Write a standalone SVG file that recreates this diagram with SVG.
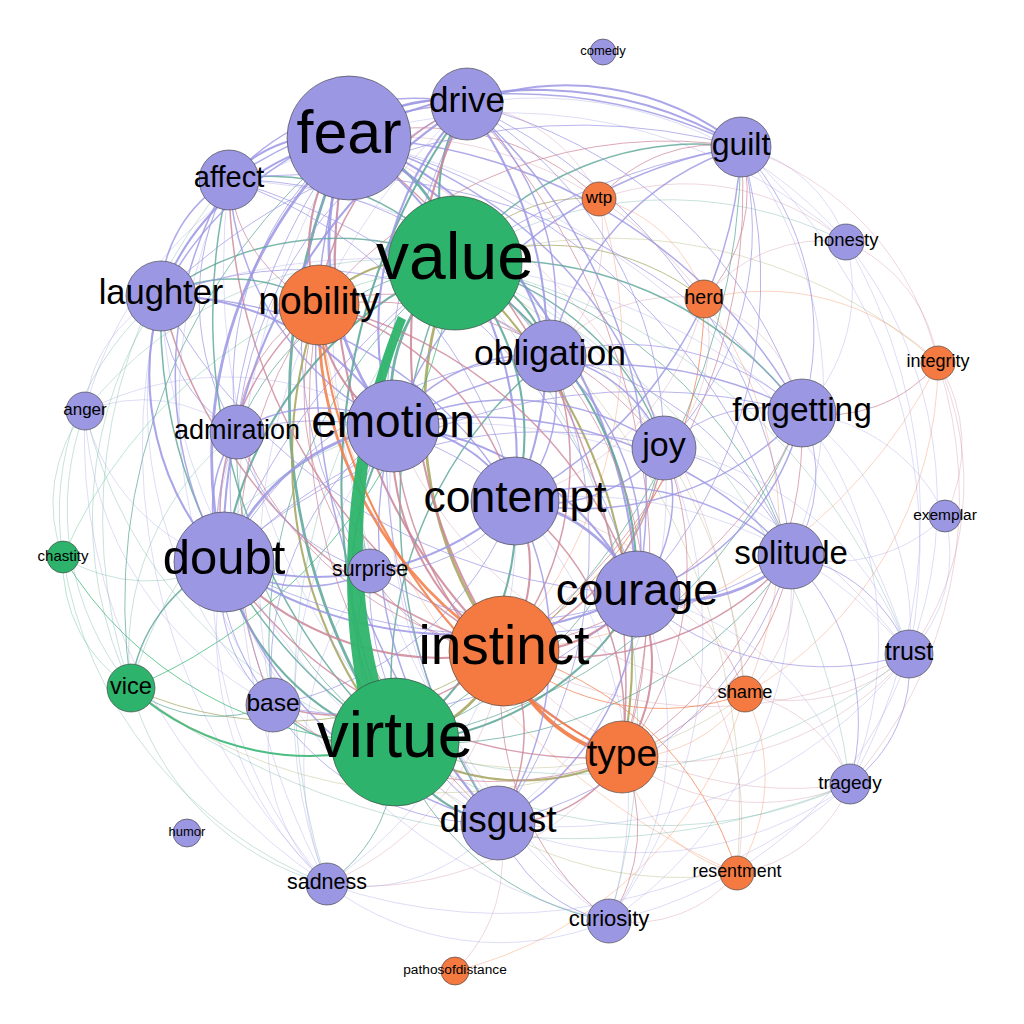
<svg xmlns="http://www.w3.org/2000/svg" width="1024" height="1024" viewBox="0 0 1024 1024">
<style>
.e path{fill:none;stroke-linecap:round}
.l{stroke:#9b96e4}.t{stroke:#5aa596}.p{stroke:#cc8597}.o{stroke:#f27b45}.v{stroke:#a3a35a}.g{stroke:#2cb36b}
.w1{stroke-width:.6;stroke-opacity:.55}.w2{stroke-width:1;stroke-opacity:.7}.w3{stroke-width:1.5;stroke-opacity:.8}.w4{stroke-width:2.1;stroke-opacity:.85}.w5{stroke-width:2.8;stroke-opacity:.85}.w6{stroke-width:4;stroke-opacity:.9}
.e path.band{fill:#2eb46b;stroke:none;fill-opacity:.95}
.n circle{stroke:#3a3a3a;stroke-width:.6}
.pu{fill:#9b97e2}.or{fill:#f47a42}.gr{fill:#2db36b}
text{font-family:"Liberation Sans",Arial,Helvetica,sans-serif;text-anchor:middle;fill:#000}
</style>
<rect width="1024" height="1024" fill="#fff"/>
<g id="edges" class="e">
<path class="t w5" d="M349 138A160 160 0 0 1 455 263"/>
<path class="t w5" d="M395 742A606 606 0 0 1 349 138"/>
<path class="p w4" d="M504 651A536 536 0 0 1 349 138"/>
<path class="l w5" d="M393 426A291 291 0 0 1 349 138"/>
<path class="l w4" d="M349 138A399 399 0 0 1 515 501"/>
<path class="l w5" d="M224 562A442 442 0 0 1 349 138"/>
<path class="l w4" d="M349 138A539 539 0 0 1 637 594"/>
<path class="l w4" d="M349 138A123 123 0 0 1 467 104"/>
<path class="p w4" d="M319 305A170 170 0 0 1 349 138"/>
<path class="p w3" d="M349 138A677 677 0 0 1 622 757"/>
<path class="l w4" d="M349 138A297 297 0 0 1 550 356"/>
<path class="l w4" d="M229 180A127 127 0 0 1 349 138"/>
<path class="l w4" d="M161 296A246 246 0 0 1 349 138"/>
<path class="l w4" d="M349 138A392 392 0 0 1 741 147"/>
<path class="l w3" d="M349 138A530 530 0 0 1 802 413"/>
<path class="l w3" d="M349 138A442 442 0 0 1 664 448"/>
<path class="l w2" d="M349 138A608 608 0 0 1 791 556"/>
<path class="l w3" d="M498 823A701 701 0 0 1 349 138"/>
<path class="l w2" d="M237 432A315 315 0 0 1 349 138"/>
<path class="l w2" d="M370 571A434 434 0 0 1 349 138"/>
<path class="l w2" d="M273 705A572 572 0 0 1 349 138"/>
<path class="t w2" d="M131 688A592 592 0 0 1 349 138"/>
<path class="l w1" d="M327 884A746 746 0 0 1 349 138"/>
<path class="l w1" d="M609 921A825 825 0 0 1 349 138"/>
<path class="p w1" d="M349 138A683 683 0 0 1 745 694"/>
<path class="l w1" d="M349 138A761 761 0 0 1 909 654"/>
<path class="p w2" d="M349 138A257 257 0 0 1 599 199"/>
<path class="p w1" d="M349 138A390 390 0 0 1 704 299"/>
<path class="l w1" d="M349 138A508 508 0 0 1 846 242"/>
<path class="l w1" d="M85 411A380 380 0 0 1 349 138"/>
<path class="v w5" d="M504 651A391 391 0 0 1 455 263"/>
<path class="t w5" d="M393 426A174 174 0 0 1 455 263"/>
<path class="t w4" d="M455 263A245 245 0 0 1 515 501"/>
<path class="t w4" d="M224 562A378 378 0 0 1 455 263"/>
<path class="t w4" d="M455 263A378 378 0 0 1 637 594"/>
<path class="t w4" d="M455 263A159 159 0 0 1 467 104"/>
<path class="v w4" d="M319 305A142 142 0 0 1 455 263"/>
<path class="v w4" d="M455 263A521 521 0 0 1 622 757"/>
<path class="t w4" d="M455 263A133 133 0 0 1 550 356"/>
<path class="t w3" d="M229 180A241 241 0 0 1 455 263"/>
<path class="t w3" d="M161 296A296 296 0 0 1 455 263"/>
<path class="t w3" d="M455 263A309 309 0 0 1 741 147"/>
<path class="t w3" d="M455 263A378 378 0 0 1 802 413"/>
<path class="t w3" d="M455 263A279 279 0 0 1 664 448"/>
<path class="t w2" d="M455 263A446 446 0 0 1 791 556"/>
<path class="t w3" d="M498 823A562 562 0 0 1 455 263"/>
<path class="t w2" d="M237 432A276 276 0 0 1 455 263"/>
<path class="t w2" d="M370 571A320 320 0 0 1 455 263"/>
<path class="t w2" d="M273 705A478 478 0 0 1 455 263"/>
<path class="g w2" d="M131 688A534 534 0 0 0 455 263"/>
<path class="t w1" d="M327 884A634 634 0 0 1 455 263"/>
<path class="t w1" d="M455 263A676 676 0 0 1 609 921"/>
<path class="v w2" d="M455 263A158 158 0 0 1 599 199"/>
<path class="v w2" d="M455 263A252 252 0 0 1 704 299"/>
<path class="v w1" d="M455 263A493 493 0 0 1 938 363"/>
<path class="t w1" d="M455 263A599 599 0 0 1 909 654"/>
<path class="v w1" d="M455 263A520 520 0 0 1 745 694"/>
<path class="v w1" d="M455 263A672 672 0 0 1 737 873"/>
<path class="t w1" d="M455 263A392 392 0 0 1 846 242"/>
<path class="t w1" d="M455 263A654 654 0 0 1 850 784"/>
<path class="g w1" d="M63 557A490 490 0 0 1 455 263"/>
<path class="t w1" d="M85 411A398 398 0 0 1 455 263"/>
<path class="v w5" d="M504 651A142 142 0 0 1 395 742"/>
<path class="t w4" d="M395 742A316 316 0 0 1 393 426"/>
<path class="t w4" d="M515 501A269 269 0 0 1 395 742"/>
<path class="t w4" d="M395 742A248 248 0 0 1 224 562"/>
<path class="t w4" d="M637 594A284 284 0 0 1 395 742"/>
<path class="t w4" d="M395 742A642 642 0 0 1 467 104"/>
<path class="v w4" d="M395 742A444 444 0 0 1 319 305"/>
<path class="v w4" d="M622 757A227 227 0 0 1 395 742"/>
<path class="t w3" d="M395 742A416 416 0 0 1 550 356"/>
<path class="t w3" d="M395 742A586 586 0 0 1 229 180"/>
<path class="t w3" d="M395 742A504 504 0 0 1 161 296"/>
<path class="t w2" d="M741 147A688 688 0 0 1 395 742"/>
<path class="t w2" d="M802 413A523 523 0 0 1 395 742"/>
<path class="t w2" d="M664 448A398 398 0 0 1 395 742"/>
<path class="t w2" d="M791 556A437 437 0 0 1 395 742"/>
<path class="t w4" d="M498 823A131 131 0 0 1 395 742"/>
<path class="t w2" d="M395 742A348 348 0 0 1 237 432"/>
<path class="t w3" d="M395 742A173 173 0 0 1 370 571"/>
<path class="t w3" d="M395 742A127 127 0 0 1 273 705"/>
<path class="g w4" d="M395 742A269 269 0 0 1 131 688"/>
<path class="g w2" d="M395 742A380 380 0 0 1 63 557"/>
<path class="t w2" d="M395 742A157 157 0 0 1 327 884"/>
<path class="t w2" d="M609 921A279 279 0 0 1 395 742"/>
<path class="t w1" d="M909 654A521 521 0 0 1 395 742"/>
<path class="v w1" d="M745 694A353 353 0 0 1 395 742"/>
<path class="t w1" d="M850 784A457 457 0 0 1 395 742"/>
<path class="v w1" d="M737 873A366 366 0 0 1 395 742"/>
<path class="t w1" d="M395 742A453 453 0 0 1 85 411"/>
<path class="p w4" d="M504 651A251 251 0 0 1 393 426"/>
<path class="p w4" d="M515 501A150 150 0 0 1 504 651"/>
<path class="p w4" d="M504 651A294 294 0 0 1 224 562"/>
<path class="p w4" d="M637 594A145 145 0 0 1 504 651"/>
<path class="p w4" d="M504 651A548 548 0 0 1 467 104"/>
<path class="o w5" d="M504 651A392 392 0 0 1 319 305"/>
<path class="o w6" d="M622 757A159 159 0 0 1 504 651"/>
<path class="p w3" d="M550 356A299 299 0 0 1 504 651"/>
<path class="p w3" d="M504 651A545 545 0 0 1 229 180"/>
<path class="p w3" d="M504 651A494 494 0 0 1 161 296"/>
<path class="p w2" d="M741 147A557 557 0 0 1 504 651"/>
<path class="p w2" d="M802 413A381 381 0 0 1 504 651"/>
<path class="p w3" d="M664 448A258 258 0 0 1 504 651"/>
<path class="p w3" d="M791 556A302 302 0 0 1 504 651"/>
<path class="p w3" d="M504 651A172 172 0 0 1 498 823"/>
<path class="p w2" d="M504 651A345 345 0 0 1 237 432"/>
<path class="p w2" d="M504 651A156 156 0 0 1 370 571"/>
<path class="p w3" d="M504 651A237 237 0 0 1 273 705"/>
<path class="p w1" d="M504 651A293 293 0 0 1 327 884"/>
<path class="p w2" d="M609 921A290 290 0 0 1 504 651"/>
<path class="p w1" d="M909 654A405 405 0 0 1 504 651"/>
<path class="o w2" d="M745 694A245 245 0 0 1 504 651"/>
<path class="o w2" d="M737 873A322 322 0 0 0 504 651"/>
<path class="o w2" d="M704 299A405 405 0 0 1 504 651"/>
<path class="o w1" d="M599 199A462 462 0 0 1 504 651"/>
<path class="o w1" d="M938 363A521 521 0 0 1 504 651"/>
<path class="p w1" d="M850 784A371 371 0 0 1 504 651"/>
<path class="v w2" d="M504 651A375 375 0 0 1 131 688"/>
<path class="l w4" d="M393 426A143 143 0 0 1 515 501"/>
<path class="l w5" d="M224 562A217 217 0 0 1 393 426"/>
<path class="l w4" d="M393 426A296 296 0 0 1 637 594"/>
<path class="l w4" d="M393 426A330 330 0 0 1 467 104"/>
<path class="p w4" d="M393 426A142 142 0 0 1 319 305"/>
<path class="p w3" d="M622 757A402 402 0 0 1 393 426"/>
<path class="l w3" d="M393 426A172 172 0 0 1 550 356"/>
<path class="l w3" d="M393 426A296 296 0 0 1 229 180"/>
<path class="l w4" d="M161 296A266 266 0 0 1 393 426"/>
<path class="l w3" d="M393 426A446 446 0 0 1 741 147"/>
<path class="l w3" d="M393 426A409 409 0 0 1 802 413"/>
<path class="l w3" d="M393 426A272 272 0 0 1 664 448"/>
<path class="l w3" d="M393 426A419 419 0 0 1 791 556"/>
<path class="l w3" d="M498 823A411 411 0 0 1 393 426"/>
<path class="l w3" d="M237 432A156 156 0 0 1 393 426"/>
<path class="l w2" d="M370 571A147 147 0 0 1 393 426"/>
<path class="l w2" d="M273 705A304 304 0 0 1 393 426"/>
<path class="l w1" d="M327 884A463 463 0 0 1 393 426"/>
<path class="l w1" d="M609 921A540 540 0 0 1 393 426"/>
<path class="l w1" d="M85 411A308 308 0 0 1 393 426"/>
<path class="l w1" d="M393 426A564 564 0 0 1 909 654"/>
<path class="p w1" d="M745 694A442 442 0 0 1 393 426"/>
<path class="t w1" d="M131 688A370 370 0 0 1 393 426"/>
<path class="l w4" d="M515 501A297 297 0 0 1 224 562"/>
<path class="l w5" d="M515 501A153 153 0 0 1 637 594"/>
<path class="l w4" d="M467 104A400 400 0 0 1 515 501"/>
<path class="p w3" d="M319 305A277 277 0 0 1 515 501"/>
<path class="p w3" d="M515 501A277 277 0 0 1 622 757"/>
<path class="l w3" d="M550 356A149 149 0 0 1 515 501"/>
<path class="l w2" d="M229 180A430 430 0 0 1 515 501"/>
<path class="l w3" d="M161 296A409 409 0 0 1 515 501"/>
<path class="l w3" d="M741 147A420 420 0 0 1 515 501"/>
<path class="l w3" d="M802 413A300 300 0 0 1 515 501"/>
<path class="l w3" d="M664 448A158 158 0 0 1 515 501"/>
<path class="l w3" d="M515 501A281 281 0 0 1 791 556"/>
<path class="l w3" d="M515 501A322 322 0 0 1 498 823"/>
<path class="l w2" d="M237 432A286 286 0 0 1 515 501"/>
<path class="l w2" d="M515 501A161 161 0 0 1 370 571"/>
<path class="l w2" d="M515 501A317 317 0 0 1 273 705"/>
<path class="l w1" d="M515 501A427 427 0 0 1 327 884"/>
<path class="l w1" d="M515 501A430 430 0 0 1 609 921"/>
<path class="l w1" d="M515 501A423 423 0 0 1 909 654"/>
<path class="p w1" d="M515 501A300 300 0 0 1 745 694"/>
<path class="p w1" d="M704 299A277 277 0 0 1 515 501"/>
<path class="l w4" d="M637 594A414 414 0 0 1 224 562"/>
<path class="l w4" d="M224 562A518 518 0 0 1 467 104"/>
<path class="p w3" d="M224 562A274 274 0 0 1 319 305"/>
<path class="p w3" d="M622 757A443 443 0 0 1 224 562"/>
<path class="l w2" d="M224 562A386 386 0 0 1 550 356"/>
<path class="l w3" d="M224 562A382 382 0 0 1 229 180"/>
<path class="l w4" d="M224 562A273 273 0 0 1 161 296"/>
<path class="l w2" d="M224 562A663 663 0 0 1 741 147"/>
<path class="l w2" d="M224 562A597 597 0 0 1 802 413"/>
<path class="l w2" d="M224 562A455 455 0 0 1 664 448"/>
<path class="l w2" d="M791 556A567 567 0 0 1 224 562"/>
<path class="l w3" d="M498 823A378 378 0 0 1 224 562"/>
<path class="l w3" d="M224 562A131 131 0 0 1 237 432"/>
<path class="l w3" d="M370 571A146 146 0 0 1 224 562"/>
<path class="l w2" d="M273 705A151 151 0 0 1 224 562"/>
<path class="t w3" d="M131 688A157 157 0 0 1 224 562"/>
<path class="t w1" d="M224 562A161 161 0 0 1 63 557"/>
<path class="l w1" d="M224 562A205 205 0 0 1 85 411"/>
<path class="l w1" d="M327 884A338 338 0 0 1 224 562"/>
<path class="l w1" d="M609 921A526 526 0 0 1 224 562"/>
<path class="l w3" d="M467 104A519 519 0 0 1 637 594"/>
<path class="p w3" d="M319 305A430 430 0 0 1 637 594"/>
<path class="p w4" d="M637 594A164 164 0 0 1 622 757"/>
<path class="l w3" d="M550 356A253 253 0 0 1 637 594"/>
<path class="l w2" d="M229 180A581 581 0 0 1 637 594"/>
<path class="l w2" d="M637 594A562 562 0 0 1 161 296"/>
<path class="l w2" d="M741 147A459 459 0 0 1 637 594"/>
<path class="l w3" d="M802 413A245 245 0 0 1 637 594"/>
<path class="l w3" d="M664 448A148 148 0 0 1 637 594"/>
<path class="l w5" d="M791 556A159 159 0 0 1 637 594"/>
<path class="l w3" d="M637 594A268 268 0 0 1 498 823"/>
<path class="l w2" d="M637 594A268 268 0 0 1 370 571"/>
<path class="l w2" d="M637 594A381 381 0 0 1 273 705"/>
<path class="l w1" d="M637 594A328 328 0 0 1 609 921"/>
<path class="l w2" d="M909 654A279 279 0 0 1 637 594"/>
<path class="p w1" d="M637 594A147 147 0 0 1 745 694"/>
<path class="l w1" d="M637 594A285 285 0 0 1 850 784"/>
<path class="p w1" d="M637 594A296 296 0 0 1 737 873"/>
<path class="p w3" d="M319 305A250 250 0 0 1 467 104"/>
<path class="p w2" d="M467 104A671 671 0 0 1 622 757"/>
<path class="l w3" d="M467 104A265 265 0 0 1 550 356"/>
<path class="l w3" d="M229 180A250 250 0 0 1 467 104"/>
<path class="l w3" d="M161 296A361 361 0 0 1 467 104"/>
<path class="l w4" d="M467 104A277 277 0 0 1 741 147"/>
<path class="l w2" d="M467 104A456 456 0 0 1 802 413"/>
<path class="l w2" d="M467 104A396 396 0 0 1 664 448"/>
<path class="l w2" d="M467 104A556 556 0 0 1 791 556"/>
<path class="l w2" d="M498 823A720 720 0 0 1 467 104"/>
<path class="l w2" d="M237 432A401 401 0 0 1 467 104"/>
<path class="p w1" d="M467 104A163 163 0 0 1 599 199"/>
<path class="l w1" d="M467 104A403 403 0 0 1 846 242"/>
<path class="l w1" d="M273 705A632 632 0 0 1 467 104"/>
<path class="o w4" d="M622 757A544 544 0 0 1 319 305"/>
<path class="p w2" d="M319 305A237 237 0 0 1 550 356"/>
<path class="p w2" d="M319 305A154 154 0 0 1 229 180"/>
<path class="t w3" d="M161 296A158 158 0 0 1 319 305"/>
<path class="p w2" d="M319 305A451 451 0 0 1 741 147"/>
<path class="p w2" d="M319 305A373 373 0 0 1 664 448"/>
<path class="p w2" d="M498 823A548 548 0 0 1 319 305"/>
<path class="p w2" d="M237 432A151 151 0 0 1 319 305"/>
<path class="p w2" d="M273 705A403 403 0 0 1 319 305"/>
<path class="p w2" d="M370 571A271 271 0 0 1 319 305"/>
<path class="o w1" d="M737 873A705 705 0 0 1 319 305"/>
<path class="p w2" d="M550 356A407 407 0 0 1 622 757"/>
<path class="p w2" d="M802 413A388 388 0 0 1 622 757"/>
<path class="p w2" d="M664 448A312 312 0 0 1 622 757"/>
<path class="p w2" d="M791 556A263 263 0 0 1 622 757"/>
<path class="p w3" d="M622 757A140 140 0 0 1 498 823"/>
<path class="p w2" d="M622 757A165 165 0 0 1 609 921"/>
<path class="o w1" d="M745 694A138 138 0 0 1 622 757"/>
<path class="o w1" d="M737 873A163 163 0 0 1 622 757"/>
<path class="p w1" d="M909 654A305 305 0 0 1 622 757"/>
<path class="p w1" d="M850 784A230 230 0 0 1 622 757"/>
<path class="p w2" d="M622 757A353 353 0 0 1 273 705"/>
<path class="p w1" d="M622 757A321 321 0 0 1 327 884"/>
<path class="v w1" d="M622 757A496 496 0 0 1 131 688"/>
<path class="l w3" d="M550 356A283 283 0 0 1 741 147"/>
<path class="l w2" d="M550 356A258 258 0 0 1 802 413"/>
<path class="l w3" d="M550 356A146 146 0 0 1 664 448"/>
<path class="l w2" d="M550 356A313 313 0 0 1 791 556"/>
<path class="l w2" d="M161 296A394 394 0 0 1 550 356"/>
<path class="l w2" d="M229 180A366 366 0 0 1 550 356"/>
<path class="l w2" d="M550 356A470 470 0 0 1 498 823"/>
<path class="p w1" d="M550 356A164 164 0 0 1 704 299"/>
<path class="p w1" d="M599 199A164 164 0 0 1 550 356"/>
<path class="l w3" d="M161 296A134 134 0 0 1 229 180"/>
<path class="l w2" d="M237 432A252 252 0 0 1 229 180"/>
<path class="l w3" d="M229 180A513 513 0 0 1 741 147"/>
<path class="l w2" d="M229 180A619 619 0 0 1 802 413"/>
<path class="l w1" d="M498 823A697 697 0 0 1 229 180"/>
<path class="l w1" d="M273 705A527 527 0 0 1 229 180"/>
<path class="t w1" d="M131 688A517 517 0 0 1 229 180"/>
<path class="l w1" d="M229 180A511 511 0 0 1 664 448"/>
<path class="l w2" d="M237 432A156 156 0 0 1 161 296"/>
<path class="l w1" d="M85 411A138 138 0 0 1 161 296"/>
<path class="t w1" d="M131 688A393 393 0 0 1 161 296"/>
<path class="l w1" d="M327 884A611 611 0 0 1 161 296"/>
<path class="t w1" d="M63 557A279 279 0 0 1 161 296"/>
<path class="l w1" d="M498 823A626 626 0 0 1 161 296"/>
<path class="l w2" d="M161 296A599 599 0 0 1 741 147"/>
<path class="l w1" d="M161 296A652 652 0 0 1 802 413"/>
<path class="l w1" d="M273 705A424 424 0 0 1 161 296"/>
<path class="l w2" d="M741 147A273 273 0 0 1 802 413"/>
<path class="l w1" d="M741 147A142 142 0 0 1 846 242"/>
<path class="l w2" d="M741 147A311 311 0 0 1 664 448"/>
<path class="l w1" d="M741 147A412 412 0 0 1 791 556"/>
<path class="p w2" d="M741 147A156 156 0 0 1 704 299"/>
<path class="p w2" d="M599 199A151 151 0 0 1 741 147"/>
<path class="l w1" d="M741 147A534 534 0 0 1 909 654"/>
<path class="p w1" d="M741 147A292 292 0 0 1 938 363"/>
<path class="l w2" d="M664 448A142 142 0 0 1 802 413"/>
<path class="l w2" d="M802 413A143 143 0 0 1 791 556"/>
<path class="p w2" d="M938 363A145 145 0 0 1 802 413"/>
<path class="l w1" d="M846 242A177 177 0 0 1 802 413"/>
<path class="l w1" d="M802 413A264 264 0 0 1 909 654"/>
<path class="l w1" d="M802 413A374 374 0 0 1 850 784"/>
<path class="p w1" d="M704 299A150 150 0 0 1 802 413"/>
<path class="l w1" d="M802 413A176 176 0 0 1 945 516"/>
<path class="l w2" d="M664 448A167 167 0 0 1 791 556"/>
<path class="l w1" d="M664 448A410 410 0 0 1 498 823"/>
<path class="l w1" d="M664 448A476 476 0 0 1 609 921"/>
<path class="p w1" d="M704 299A154 154 0 0 1 664 448"/>
<path class="l w1" d="M664 448A320 320 0 0 1 909 654"/>
<path class="l w2" d="M791 556A153 153 0 0 1 909 654"/>
<path class="l w2" d="M791 556A236 236 0 0 1 850 784"/>
<path class="p w1" d="M791 556A145 145 0 0 1 745 694"/>
<path class="l w1" d="M945 516A159 159 0 0 1 791 556"/>
<path class="l w2" d="M791 556A396 396 0 0 1 498 823"/>
<path class="l w1" d="M791 556A408 408 0 0 1 609 921"/>
<path class="l w2" d="M609 921A148 148 0 0 1 498 823"/>
<path class="l w1" d="M498 823A182 182 0 0 1 327 884"/>
<path class="l w2" d="M498 823A254 254 0 0 1 273 705"/>
<path class="l w2" d="M498 823A283 283 0 0 1 370 571"/>
<path class="l w1" d="M909 654A444 444 0 0 1 498 823"/>
<path class="l w1" d="M850 784A354 354 0 0 1 498 823"/>
<path class="l w2" d="M909 654A143 143 0 0 1 850 784"/>
<path class="p w1" d="M909 654A169 169 0 0 1 745 694"/>
<path class="l w1" d="M945 516A143 143 0 0 1 909 654"/>
<path class="p w1" d="M938 363A292 292 0 0 1 909 654"/>
<path class="l w1" d="M909 654A402 402 0 0 1 609 921"/>
<path class="o w1" d="M745 694A179 179 0 0 1 737 873"/>
<path class="p w1" d="M745 694A138 138 0 0 1 850 784"/>
<path class="p w1" d="M737 873A137 137 0 0 1 609 921"/>
<path class="p w1" d="M850 784A144 144 0 0 1 737 873"/>
<path class="p w1" d="M846 242A152 152 0 0 1 938 363"/>
<path class="l w1" d="M846 242A542 542 0 0 1 850 784"/>
<path class="l w1" d="M846 242A417 417 0 0 1 909 654"/>
<path class="p w1" d="M704 299A153 153 0 0 1 846 242"/>
<path class="p w1" d="M599 199A251 251 0 0 1 846 242"/>
<path class="p w1" d="M938 363A430 430 0 0 1 850 784"/>
<path class="o w1" d="M704 299A243 243 0 0 1 938 363"/>
<path class="o w1" d="M938 363A383 383 0 0 1 745 694"/>
<path class="p w1" d="M938 363A153 153 0 0 1 945 516"/>
<path class="o w1" d="M599 199A145 145 0 0 1 704 299"/>
<path class="o w1" d="M704 299A397 397 0 0 1 745 694"/>
<path class="l w1" d="M85 411A153 153 0 0 1 237 432"/>
<path class="t w1" d="M131 688A277 277 0 0 1 237 432"/>
<path class="l w2" d="M273 705A275 275 0 0 1 237 432"/>
<path class="l w2" d="M370 571A192 192 0 0 1 237 432"/>
<path class="l w1" d="M327 884A461 461 0 0 1 237 432"/>
<path class="g w1" d="M131 688A148 148 0 0 1 63 557"/>
<path class="t w1" d="M131 688A281 281 0 0 1 85 411"/>
<path class="t w2" d="M273 705A143 143 0 0 1 131 688"/>
<path class="t w1" d="M327 884A277 277 0 0 1 131 688"/>
<path class="t w1" d="M850 784A725 725 0 0 1 131 688"/>
<path class="t w1" d="M63 557A148 148 0 0 1 85 411"/>
<path class="l w1" d="M327 884A531 531 0 0 1 85 411"/>
<path class="l w1" d="M273 705A349 349 0 0 1 85 411"/>
<path class="l w1" d="M609 921A284 284 0 0 1 327 884"/>
<path class="l w1" d="M850 784A532 532 0 0 1 327 884"/>
<path class="l w1" d="M327 884A187 187 0 0 1 273 705"/>
<path class="l w1" d="M327 884A316 316 0 0 1 370 571"/>
<path class="t w1" d="M327 884A420 420 0 0 1 63 557"/>
<path class="o w1" d="M745 694A401 401 0 0 1 455 971"/>
<path class="p w1" d="M498 823A154 154 0 0 1 455 971"/>
<path class="band" d="M398 316C356 420 330 560 360 702L384 698C344 560 366 420 406 320Z"/>
</g>
<g id="nodes" class="n">
<g id="node-comedy"><circle class="pu" cx="603" cy="52" r="13"/><text x="603" y="55" font-size="13">comedy</text></g>
<g id="node-drive"><circle class="pu" cx="467" cy="104" r="36"/><text x="467" y="112" font-size="35">drive</text></g>
<g id="node-guilt"><circle class="pu" cx="741" cy="147" r="30"/><text x="741" y="155" font-size="32">guilt</text></g>
<g id="node-affect"><circle class="pu" cx="229" cy="180" r="30"/><text x="229" y="187" font-size="29">affect</text></g>
<g id="node-wtp"><circle class="or" cx="599" cy="199" r="17"/><text x="599" y="203" font-size="17">wtp</text></g>
<g id="node-honesty"><circle class="pu" cx="846" cy="242" r="18"/><text x="846" y="246" font-size="18.5">honesty</text></g>
<g id="node-herd"><circle class="or" cx="704" cy="299" r="19"/><text x="704" y="304" font-size="19.5">herd</text></g>
<g id="node-integrity"><circle class="or" cx="938" cy="363" r="17"/><text x="938" y="367" font-size="18">integrity</text></g>
<g id="node-anger"><circle class="pu" cx="85" cy="411" r="19"/><text x="85" y="415" font-size="17">anger</text></g>
<g id="node-exemplar"><circle class="pu" cx="945" cy="516" r="16"/><text x="945" y="520" font-size="15.5">exemplar</text></g>
<g id="node-chastity"><circle class="gr" cx="63" cy="557" r="16"/><text x="63" y="561" font-size="15">chastity</text></g>
<g id="node-trust"><circle class="pu" cx="909" cy="654" r="24"/><text x="909" y="660" font-size="25">trust</text></g>
<g id="node-shame"><circle class="or" cx="745" cy="694" r="18"/><text x="745" y="698" font-size="18.3">shame</text></g>
<g id="node-tragedy"><circle class="pu" cx="850" cy="784" r="20"/><text x="850" y="789" font-size="19">tragedy</text></g>
<g id="node-humor"><circle class="pu" cx="187" cy="833" r="14"/><text x="187" y="836" font-size="13">humor</text></g>
<g id="node-sadness"><circle class="pu" cx="327" cy="884" r="21"/><text x="327" y="889" font-size="21.5">sadness</text></g>
<g id="node-resentment"><circle class="or" cx="737" cy="873" r="17"/><text x="737" y="877" font-size="17.8">resentment</text></g>
<g id="node-curiosity"><circle class="pu" cx="609" cy="921" r="22"/><text x="609" y="926" font-size="22">curiosity</text></g>
<g id="node-pathosofdistance"><circle class="or" cx="455" cy="971" r="14"/><text x="455" y="974" font-size="13.7">pathosofdistance</text></g>
<g id="node-vice"><circle class="gr" cx="131" cy="688" r="24"/><text x="131" y="694" font-size="23.6">vice</text></g>
<g id="node-base"><circle class="pu" cx="273" cy="705" r="27"/><text x="273" y="711" font-size="24.5">base</text></g>
<g id="node-surprise"><circle class="pu" cx="370" cy="571" r="22"/><text x="370" y="576" font-size="21.4">surprise</text></g>
<g id="node-admiration"><circle class="pu" cx="237" cy="432" r="27"/><text x="237" y="438.5" font-size="27">admiration</text></g>
<g id="node-laughter"><circle class="pu" cx="161" cy="296" r="35"/><text x="161" y="304" font-size="34.5">laughter</text></g>
<g id="node-obligation"><circle class="pu" cx="550" cy="356" r="36"/><text x="550" y="364.5" font-size="35.5">obligation</text></g>
<g id="node-forgetting"><circle class="pu" cx="802" cy="413" r="34"/><text x="802" y="421" font-size="33.5">forgetting</text></g>
<g id="node-joy"><circle class="pu" cx="664" cy="448" r="32"/><text x="664" y="456" font-size="34">joy</text></g>
<g id="node-solitude"><circle class="pu" cx="791" cy="556" r="33"/><text x="791" y="564" font-size="33">solitude</text></g>
<g id="node-type"><circle class="or" cx="622" cy="757" r="36"/><text x="622" y="766" font-size="37">type</text></g>
<g id="node-disgust"><circle class="pu" cx="498" cy="823" r="37"/><text x="498" y="832" font-size="37">disgust</text></g>
<g id="node-nobility"><circle class="or" cx="319" cy="305" r="40"/><text x="319" y="314" font-size="39">nobility</text></g>
<g id="node-emotion"><circle class="pu" cx="393" cy="426" r="46"/><text x="393" y="437" font-size="46">emotion</text></g>
<g id="node-contempt"><circle class="pu" cx="515" cy="501" r="44"/><text x="515" y="512" font-size="44.5">contempt</text></g>
<g id="node-doubt"><circle class="pu" cx="224" cy="562" r="50"/><text x="224" y="574" font-size="49">doubt</text></g>
<g id="node-courage"><circle class="pu" cx="637" cy="594" r="43"/><text x="637" y="605" font-size="45">courage</text></g>
<g id="node-instinct"><circle class="or" cx="504" cy="651" r="55"/><text x="504" y="664" font-size="55">instinct</text></g>
<g id="node-fear"><circle class="pu" cx="349" cy="138" r="62"/><text x="349" y="153" font-size="61">fear</text></g>
<g id="node-value"><circle class="gr" cx="455" cy="263" r="67"/><text x="455" y="279" font-size="66">value</text></g>
<g id="node-virtue"><circle class="gr" cx="395" cy="742" r="64"/><text x="395" y="757" font-size="64">virtue</text></g>
</g>
</svg>
